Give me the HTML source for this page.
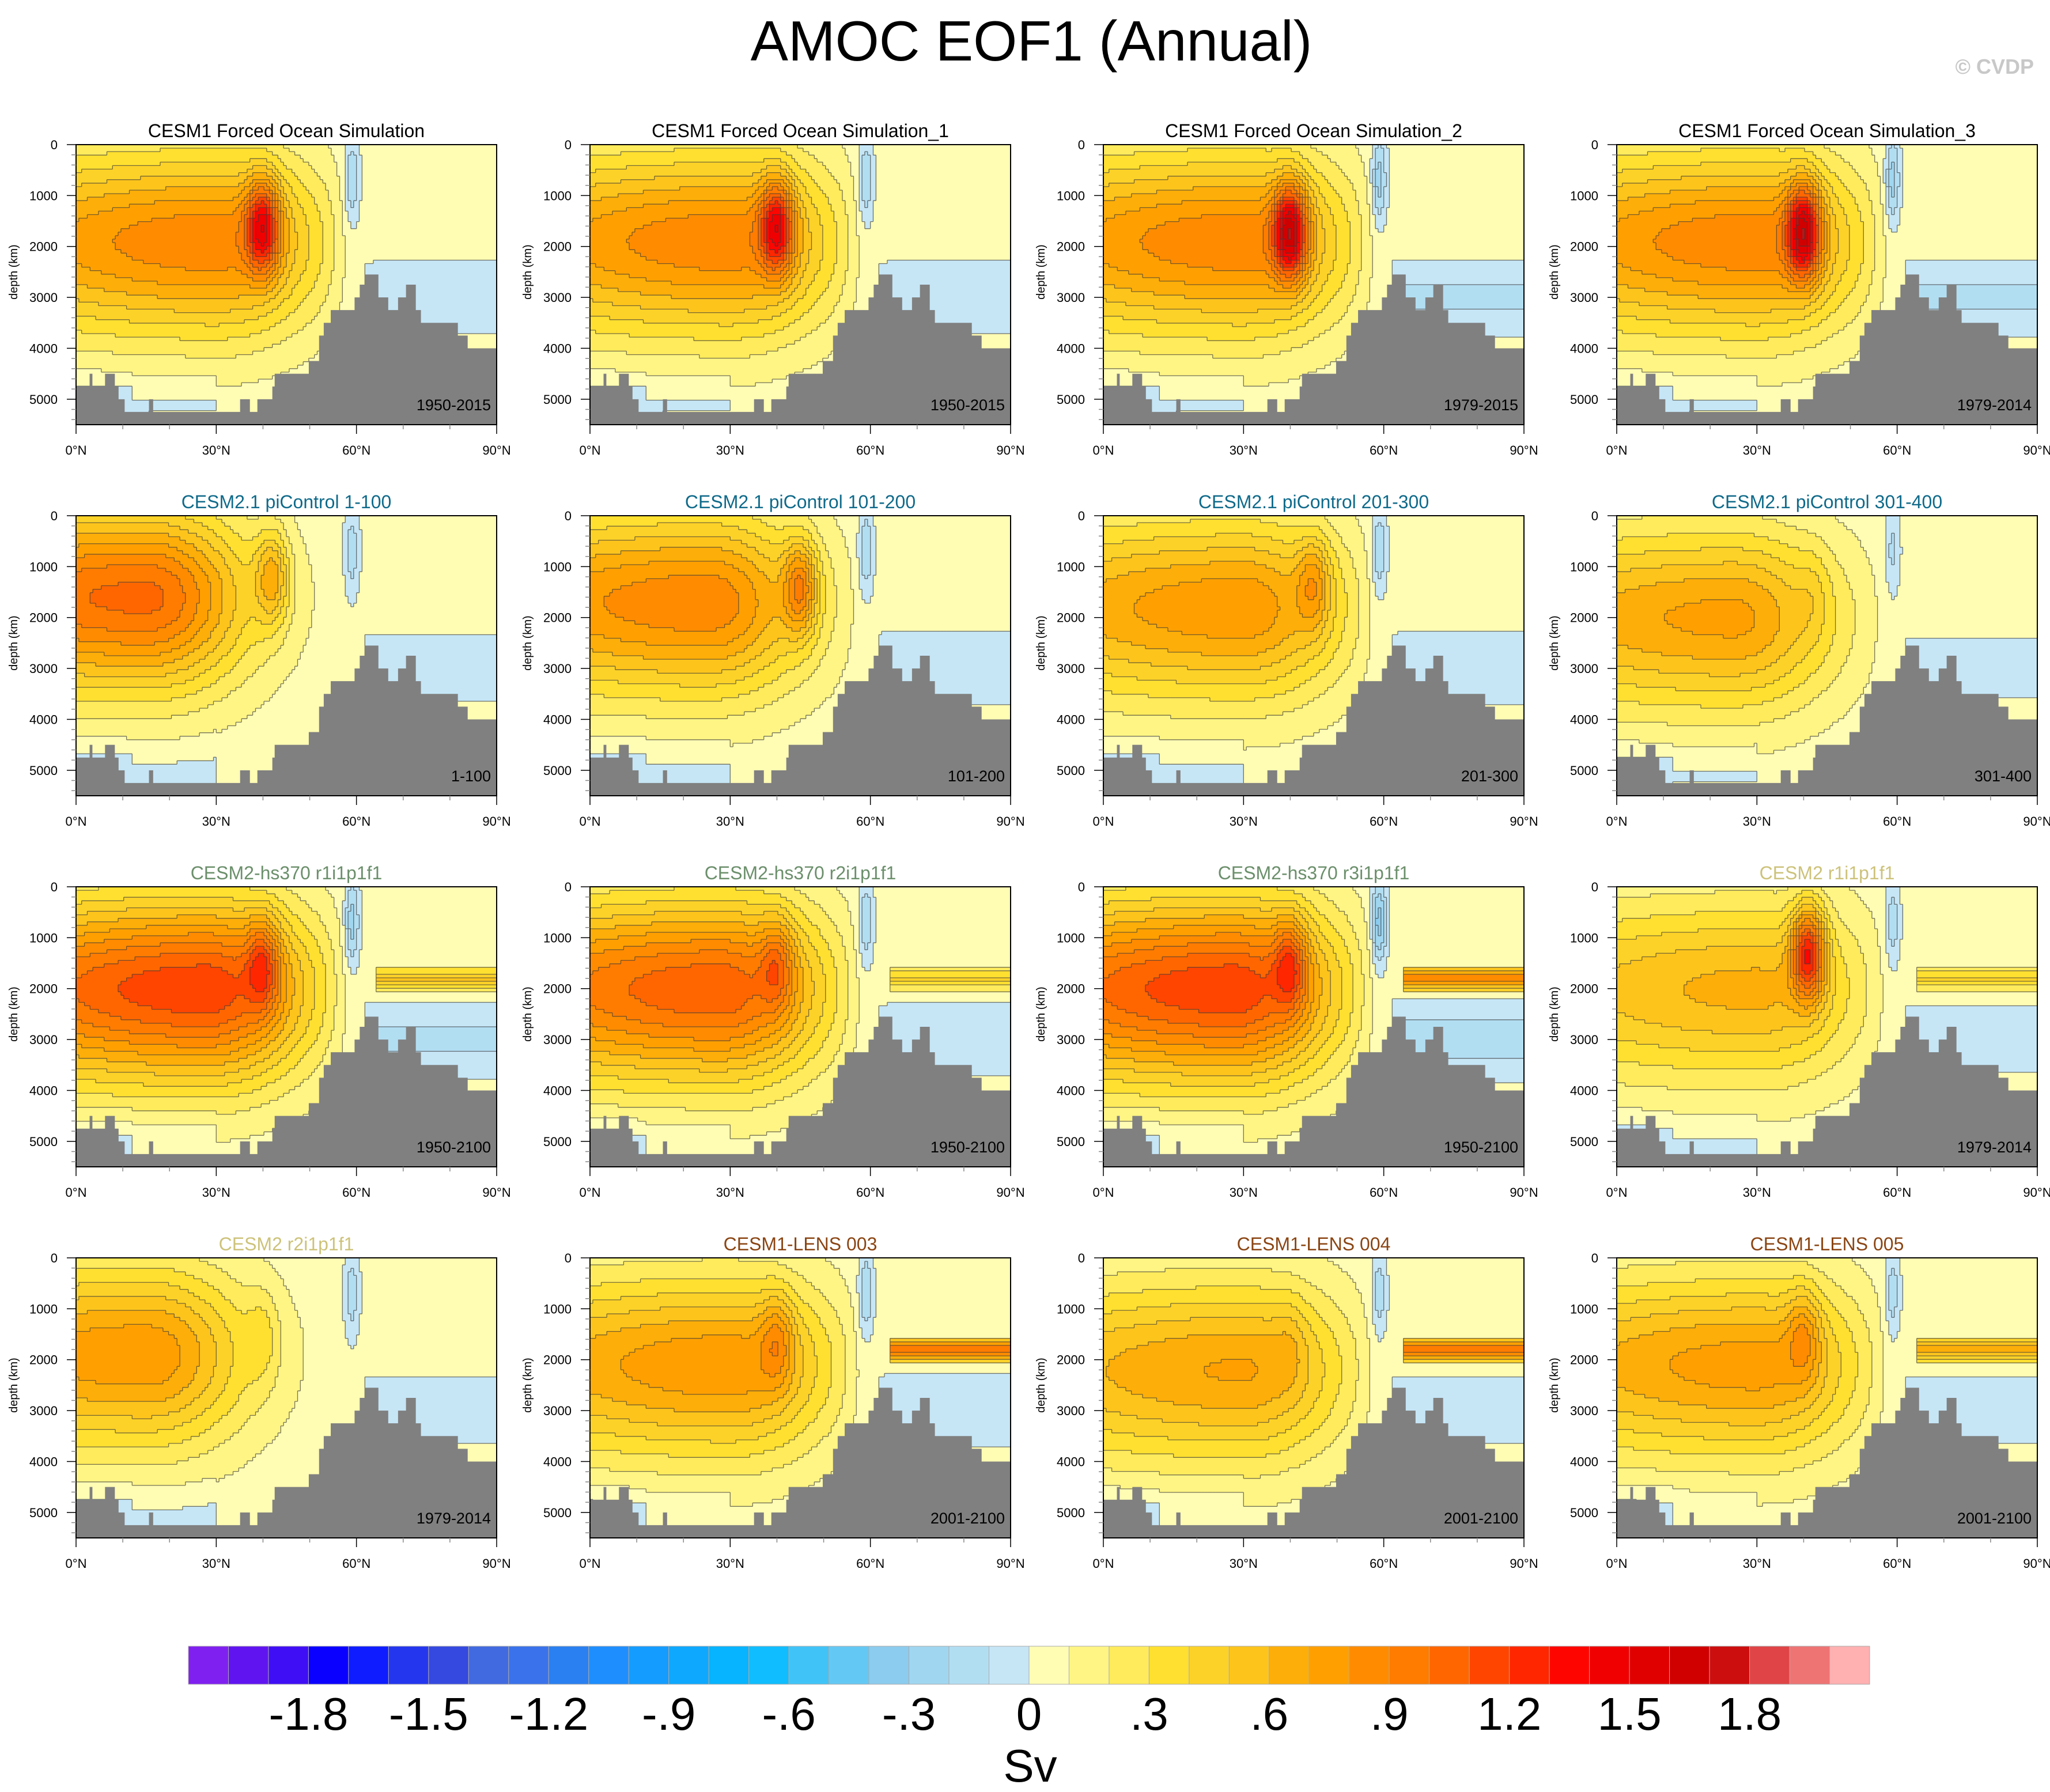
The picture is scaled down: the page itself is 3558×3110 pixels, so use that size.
<!DOCTYPE html>
<html><head><meta charset="utf-8">
<style>
html,body{margin:0;padding:0;background:#fff;}
svg{display:block;font-family:"Liberation Sans",Arial,sans-serif;}
</style></head>
<body>
<svg id="fig" xmlns="http://www.w3.org/2000/svg" width="3558" height="3110" viewBox="0 0 3558 3110">
<rect width="3558" height="3110" fill="#fff"/>
<text x="1790" y="105" font-size="98" text-anchor="middle">AMOC EOF1 (Annual)</text>
<text x="3530" y="128" font-size="36" font-weight="bold" fill="#c8c8c8" text-anchor="end">© CVDP</text>
<g id="panels"></g>
<g id="cbar"></g>
</svg>
<script>
// ---- chart data ----
const panelTitles = ["CESM1 Forced Ocean Simulation","CESM1 Forced Ocean Simulation_1","CESM1 Forced Ocean Simulation_2","CESM1 Forced Ocean Simulation_3",
"CESM2.1 piControl 1-100","CESM2.1 piControl 101-200","CESM2.1 piControl 201-300","CESM2.1 piControl 301-400",
"CESM2-hs370 r1i1p1f1","CESM2-hs370 r2i1p1f1","CESM2-hs370 r3i1p1f1","CESM2 r1i1p1f1",
"CESM2 r2i1p1f1","CESM1-LENS 003","CESM1-LENS 004","CESM1-LENS 005"];
const panelColors = ["#000","#000","#000","#000","#0f6a8a","#0f6a8a","#0f6a8a","#0f6a8a",
"#6b8f6b","#6b8f6b","#6b8f6b","#cdc27a","#cdc27a","#8b4513","#8b4513","#8b4513"];
const panelPeriods = ["1950-2015","1950-2015","1979-2015","1979-2014","1-100","101-200","201-300","301-400",
"1950-2100","1950-2100","1950-2100","1979-2014","1979-2014","2001-2100","2001-2100","2001-2100"];
const broadAmp  = [0.85,0.85,0.85,0.85,1.00,0.85,0.75,0.70,1.15,1.05,1.15,0.60,0.75,0.75,0.68,0.72];
const broadLat  = [30,30,30,30,15,25,30,25,28,28,28,30,15,30,30,30];
const broadDep  = [1900,1900,1900,1900,1600,1700,1800,2000,2000,2000,2000,2000,1900,2100,2200,2100];
const coreAmp   = [0.80,0.80,1.00,1.00,0.45,0.55,0.35,0.10,0.45,0.35,0.45,0.90,0.15,0.30,0.10,0.30];
const coreLat   = [40,40,40,40,42,45,45,42,40,40,40,41,40,40,40,40];
const coreDep   = [1600,1600,1700,1700,1200,1400,1300,1500,1500,1500,1500,1300,1500,1600,1600,1500];
const barAmp    = [0,0,0,0,0,0,0,0,0.5,0.4,0.9,0.4,0,1.0,1.0,0.7];
const negAmp    = [0.12,0.12,0.15,0.15,0.10,0.12,0.12,0.08,0.15,0.12,0.20,0.10,0.10,0.12,0.10,0.10];
// bathymetry: segment start latitude and bottom depth (m)
const bathyLat   = [0,2.9,3.5,6.2,8.3,9.1,10.4,15.6,16.5,35.1,37.2,38.8,42.0,42.5,49.8,52,53,54.5,59.6,60.7,61.8,64.7,66.8,68.9,70.6,72.7,73.8,81.7,83.8];
const bathyDepth = [4750,4500,4750,4500,4750,5000,5250,5000,5250,5000,5250,5000,4750,4500,4250,3750,3500,3250,3000,2750,2550,3000,3250,3000,2750,3250,3500,3750,4000];
const cbColors = ["#8020F0","#6015F0","#400EF5","#0A00FF","#0E1CFF","#2436EE","#3549E0","#4169E0","#3A72EB","#2A80F0","#1E8EFF","#149CFF","#0EA8FF","#06B4FF","#10BEFF","#40C4F8","#64C8F4","#8CCCEE","#A0D6F0","#B2DEF2","#C6E6F6",
"#FFFCB4","#FFF584","#FFEB5C","#FFE030","#FDD228","#FDC41C","#FDAE08","#FFA000","#FF8C00","#FF7C00","#FF6600","#FF4500","#FF2600","#FF0500","#F00000","#E00000","#D00000","#CD0E0E","#E04446","#EE7474","#FFB0B0"];
const cbLabels = ["-1.8","-1.5","-1.2","-.9","-.6","-.3","0",".3",".6",".9","1.2","1.5","1.8"];
const cbLabelVals = [-1.8,-1.5,-1.2,-0.9,-0.6,-0.3,0,0.3,0.6,0.9,1.2,1.5,1.8];
const yTicks = [0,1000,2000,3000,4000,5000];
const xTicks = [0,30,60,90];

// ---- layout ----
const NS="http://www.w3.org/2000/svg";
const colX=[132,1024,1915,2806], rowY=[251,895,1539,2183];
const PW=730, PH=486, ZMAX=5500;
function mk(tag,attrs,parent){const e=document.createElementNS(NS,tag);for(const k in attrs)e.setAttribute(k,attrs[k]);parent.appendChild(e);return e;}
function sq(a){return a*a;}
function field(p,lat,z){
  const dl=lat-broadLat[p], sl=dl<0?70:22;
  const dz=z-broadDep[p], sz=dz<0?1700:1800;
  const cut=1/(1+Math.exp((lat-57)/1.5));
  let v=broadAmp[p]*Math.exp(-sq(dl/sl)-sq(dz/sz))*cut;
  v+=coreAmp[p]*Math.exp(-sq((lat-coreLat[p])/3.5)-sq((z-coreDep[p])/900));
  v-=negAmp[p]*2*Math.exp(-sq((lat-59)/1.5)-sq((z-700)/800));
  v-=negAmp[p]*Math.exp(-sq((z-3000)/600))*(lat>62?1:0);
  v-=0.12*Math.exp(-sq((z-5000)/500))*(lat<30?(lat<12?1:0.6):0);
  if(barAmp[p]>0 && lat>64 && z>1550 && z<2050){v+=barAmp[p]*(1-0.6*Math.abs(z-1800)/250);}
  return v+0.03;
}
function cls(v){let i=Math.floor(v/0.1)+21;return Math.max(0,Math.min(41,i));}
const panels=document.getElementById('panels');
const NX=150, NZ=80;
for(let p=0;p<16;p++){
  const x0=colX[p%4], y0=rowY[Math.floor(p/4)];
  const sx=function(l){return x0+l/90*PW;}, sy=function(z){return y0+z/ZMAX*PH;};
  const gx=function(i){return sx(i*90/NX);}, gy=function(j){return sy(j*ZMAX/NZ);};
  const g=mk('g',{},panels);
  
  
  const cells=mk('g',{'shape-rendering':'crispEdges'},g);
  
  
  const C=[];
  for(let j=0;j<NZ;j++){
    const row=[];const z=(j+0.5)*ZMAX/NZ;
    for(let i=0;i<NX;i++) row.push(cls(field(p,(i+0.5)*90/NX,z)));
    C.push(row);
  }
  for(let j=0;j<NZ;j++){
    let start=0, c=C[j][0];
    for(let i=1;i<=NX;i++){
      const ci = i<NX ? C[j][i] : -1;
      if(ci!==c){
        const r=mk('rect',{x:gx(start),y:gy(j),width:gx(i)-gx(start)+0.6,height:gy(j+1)-gy(j)+0.6,fill:cbColors[c]},cells);
        
        
        start=i;c=ci;
      }
    }
  }
  // contour lines along class boundaries
  let cd='';
  for(let j=0;j<NZ;j++)for(let i=1;i<NX;i++){
    if(C[j][i]!==C[j][i-1]) cd+='M'+gx(i).toFixed(1)+','+gy(j).toFixed(1)+'V'+gy(j+1).toFixed(1);
  }
  for(let j=1;j<NZ;j++)for(let i=0;i<NX;i++){
    if(C[j][i]!==C[j-1][i]) cd+='M'+gx(i).toFixed(1)+','+gy(j).toFixed(1)+'H'+gx(i+1).toFixed(1);
  }
  const cl=mk('path',{d:cd,fill:'none',stroke:'#3a3a3a','stroke-width':1.3,'stroke-opacity':0.7},g);
  
  
  let d='M'+sx(0)+','+sy(ZMAX);
  for(let k=0;k<bathyLat.length;k++){
    const a=bathyLat[k], b=k+1<bathyLat.length?bathyLat[k+1]:90;
    d+=' L'+sx(a)+','+sy(bathyDepth[k])+' L'+sx(b)+','+sy(bathyDepth[k]);
  }
  d+=' L'+sx(90)+','+sy(ZMAX)+' Z';
  const bp=mk('path',{d:d,fill:'#808080'},g);
  
  
  const fr=mk('rect',{x:x0,y:y0,width:PW,height:PH,fill:'none',stroke:'#000','stroke-width':2},g);
  
  
  for(let z=0;z<=ZMAX;z+=200){
    const maj=z%1000===0;
    mk('line',{x1:x0,x2:x0-(maj?16:8),y1:sy(z),y2:sy(z),stroke:maj?'#000':'#888','stroke-width':1.5},g);
  }
  yTicks.forEach(function(z){
    const t=mk('text',{x:x0-32,y:sy(z)+8,'font-size':22,'text-anchor':'end'},g);
    t.textContent=z;
    
    
  });
  for(let l=0;l<=90;l+=10){
    const maj=l%30===0;
    mk('line',{x1:sx(l),x2:sx(l),y1:y0+PH,y2:y0+PH+(maj?16:8),stroke:maj?'#000':'#888','stroke-width':1.5},g);
  }
  xTicks.forEach(function(l){
    const t=mk('text',{x:sx(l),y:y0+PH+52,'font-size':22,'text-anchor':'middle'},g);
    t.textContent=l+'°N';
    
    
  });
  const yt=mk('text',{x:0,y:0,'font-size':20,'text-anchor':'middle',transform:'translate('+(x0-102)+','+(y0+PH*0.455)+') rotate(-90)'},g);
  yt.textContent='depth (km)';
  
  
  const tt=mk('text',{x:x0+PW/2,y:y0-13,'font-size':32,'text-anchor':'middle',fill:panelColors[p]},g);
  tt.textContent=panelTitles[p];
  
  
  const pt=mk('text',{x:x0+PW-10,y:y0+PH-25,'font-size':27,'text-anchor':'end'},g);
  pt.textContent=panelPeriods[p];
  
  
}
const cb=document.getElementById('cbar');


const cbx0=327, cbx1=3245, cby=2857, cbh=66, bw=(cbx1-cbx0)/cbColors.length;
const cbX=function(v){return cbx0+(v+2.1)/4.2*(cbx1-cbx0);};
cbColors.forEach(function(c,i){
  const r=mk('rect',{x:cbx0+i*bw,y:cby,width:bw,height:cbh,fill:c,stroke:'#aaa','stroke-width':1},cb);
  
  
});
cbLabels.forEach(function(s,i){
  const t=mk('text',{x:cbX(cbLabelVals[i]),y:3002,'font-size':80,'text-anchor':'middle'},cb);
  t.textContent=s;
  
  
});
const sv=mk('text',{x:1788,y:3092,'font-size':80,'text-anchor':'middle'},cb);
sv.textContent='Sv';


</script>
</body></html>
